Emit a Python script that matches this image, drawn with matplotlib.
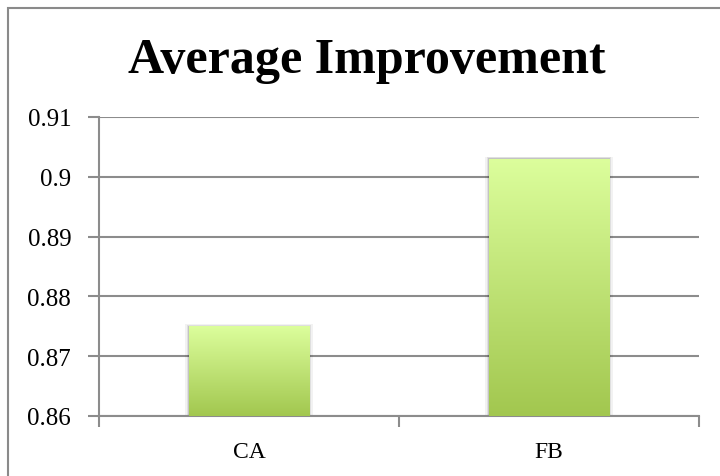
import numpy as np
import matplotlib
matplotlib.use("Agg")
import matplotlib.pyplot as plt
from matplotlib.colors import LinearSegmentedColormap
from matplotlib.patches import Rectangle

categories = ["CA", "FB"]
values = [0.875, 0.903]
yticks = [0.86, 0.87, 0.88, 0.89, 0.90, 0.91]
ytick_labels = ["0.86", "0.87", "0.88", "0.89", "0.9", "0.91"]

W, H = 720, 477
fig = plt.figure(figsize=(7.2, 4.77), dpi=100)
fig.patch.set_facecolor("white")

# chart frame (runs off the right and bottom of the picture)
fig.patches.append(Rectangle((8 / W, -0.1), 1.2, 1 - 9 / H + 0.1, transform=fig.transFigure,
                             fill=False, edgecolor="#8a8a8a", linewidth=1.5))

ax = fig.add_axes([99 / W, 1 - 417 / H, 600 / W, 299 / H])
ax.set_xlim(0, 2)
ax.set_ylim(0.86, 0.91)

gray = "#8c8c8c"
x = np.arange(len(categories)) + 0.5
bars = ax.bar(x, [v - 0.86 for v in values], bottom=0.86, width=0.4,
              color="none", edgecolor="none", zorder=3)

cmap = LinearSegmentedColormap.from_list("g", ["#a2c74f", "#dcfe9c"])
grad = np.linspace(0, 1, 256).reshape(-1, 1)
for b in bars:
    x0, y0 = b.get_x(), b.get_y()
    w, h = b.get_width(), b.get_height()
    # soft shadow
    for k, a in zip([0.012, 0.008, 0.004], [0.05, 0.08, 0.12]):
        ax.add_patch(Rectangle((x0 - k, y0), w + 2 * k, h + k * 0.03, facecolor="black",
                               alpha=a, edgecolor="none", zorder=2))
    im = ax.imshow(grad, extent=(x0, x0 + w, y0, y0 + h), origin="lower", cmap=cmap,
                   aspect="auto", zorder=3, interpolation="bicubic")
    im.set_clip_path(b)

ax.set_yticks(yticks)
ax.set_yticklabels(ytick_labels)
ax.set_xticks([0, 1, 2], minor=False)
ax.set_xticklabels([])
ax.set_xticks(x, minor=True)
ax.set_xticklabels(categories, minor=True)
ax.tick_params(axis="x", which="minor", length=0, pad=18)
ax.tick_params(axis="x", which="major", length=8, color=gray, width=1.5)
ax.tick_params(axis="y", length=8, color=gray, width=1.5, pad=12)
for lab in ax.get_yticklabels():
    lab.set_fontfamily("Liberation Serif")
    lab.set_fontsize(18)
for lab in ax.get_xticklabels(minor=True):
    lab.set_fontfamily("Liberation Serif")
    lab.set_fontsize(17)

ax.grid(axis="y", color=gray, linewidth=1.5, zorder=1)
ax.set_axisbelow(True)
for s in ["top", "right"]:
    ax.spines[s].set_visible(False)
ax.spines["left"].set_color(gray)
ax.spines["bottom"].set_color(gray)
ax.spines["left"].set_linewidth(1.5)
ax.spines["bottom"].set_linewidth(1.5)

fig.text(367 / W, 1 - 73 / H, "Average Improvement", ha="center", va="baseline",
         fontfamily="Liberation Serif", fontweight="bold", fontsize=36)

fig.savefig("out.png", dpi=100)
